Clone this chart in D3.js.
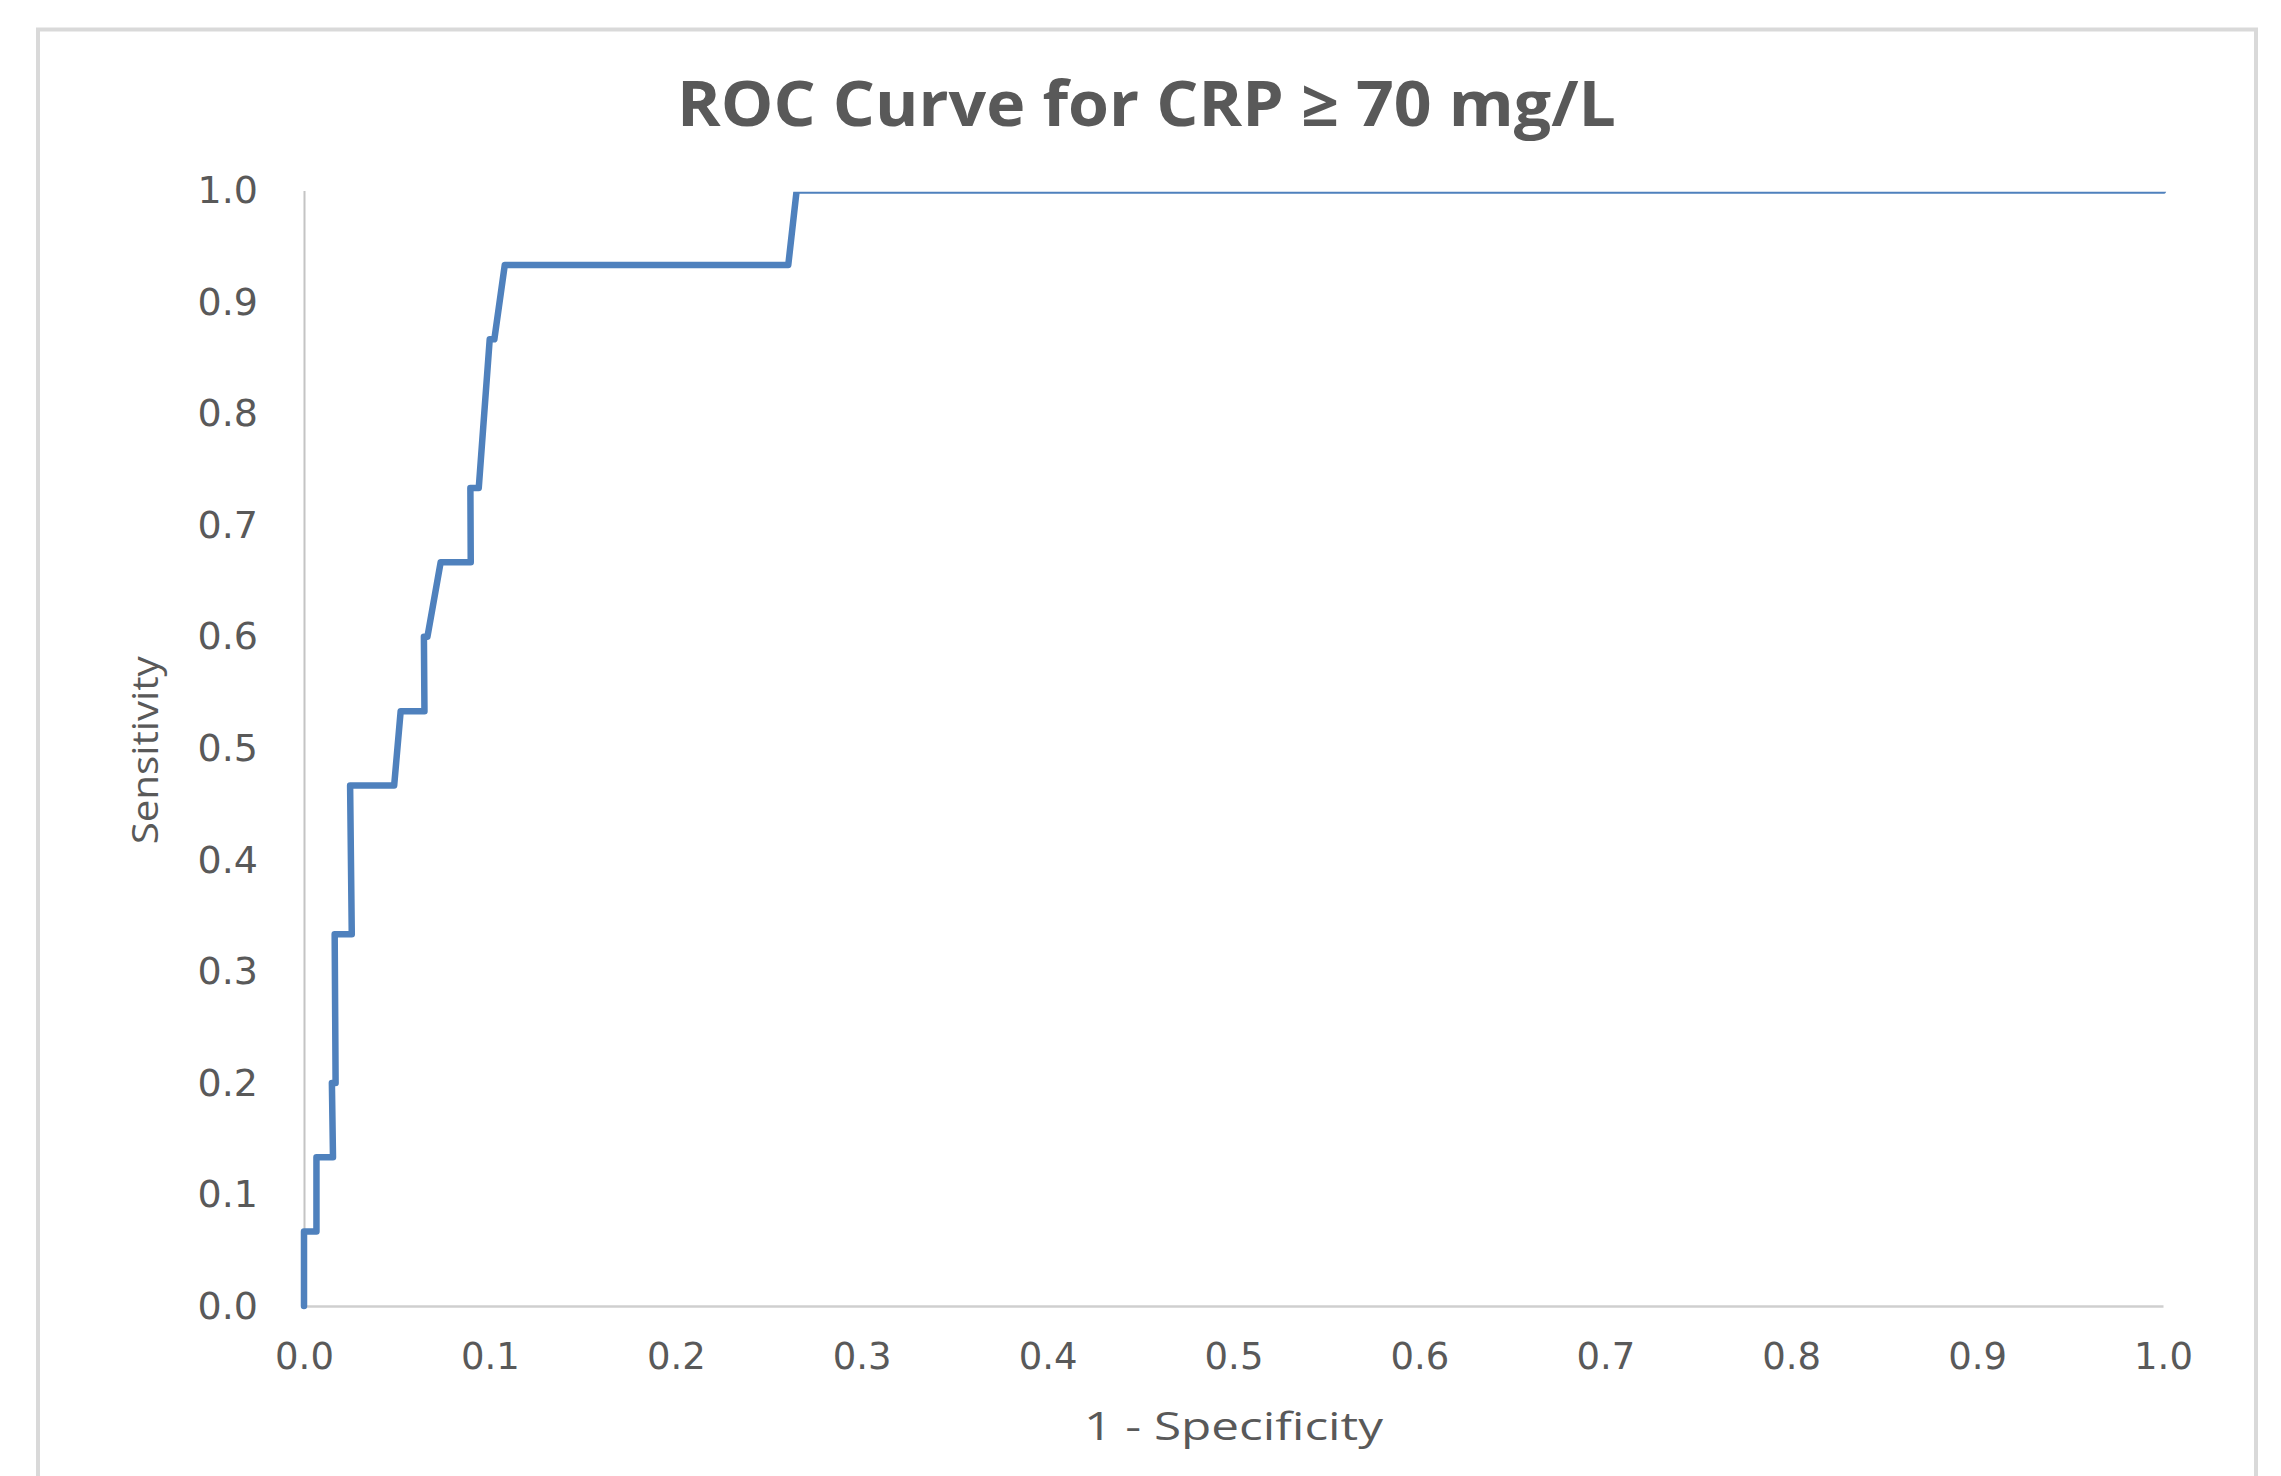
<!DOCTYPE html>
<html>
<head>
<meta charset="utf-8">
<script src="https://cdn.jsdelivr.net/npm/d3@7"></script>
<style>
  html, body { margin: 0; padding: 0; background: #ffffff; }
  svg { display: block; }
</style>
</head>
<body>
<script>
// ----- data -----
const chartTitle = "ROC Curve for CRP \u2265 70 mg/L";
const xTitle = "1 - Specificity";
const yTitle = "Sensitivity";
const xTicks = [0, 0.1, 0.2, 0.3, 0.4, 0.5, 0.6, 0.7, 0.8, 0.9, 1.0];
const yTicks = [0, 0.1, 0.2, 0.3, 0.4, 0.5, 0.6, 0.7, 0.8, 0.9, 1.0];
// 1 - specificity (false positive rate)
const fpr = [0, 0, 0.0067, 0.0067, 0.0156, 0.0150, 0.0170, 0.0165, 0.0257, 0.0248,
             0.0485, 0.0520, 0.0648, 0.0645, 0.0664, 0.0735, 0.0897, 0.0895, 0.0940,
             0.0999, 0.1024, 0.1080, 0.2605, 0.2650, 1.0];
// sensitivity (true positive rate)
const tpr = [0, 0.0667, 0.0667, 0.1333, 0.1333, 0.2, 0.2, 0.3333, 0.3333, 0.4667,
             0.4667, 0.5333, 0.5333, 0.6, 0.6, 0.6667, 0.6667, 0.7333, 0.7333,
             0.8667, 0.8667, 0.9333, 0.9333, 1.0, 1.0];

// ----- layout -----
const W = 2281, H = 1476;
const plot = { left: 304, right: 2163, top: 190.6, bottom: 1306 };
const textColor = "#595959";
const lineColor = "#4f81bd";

const svg = d3.select("body").append("svg")
  .attr("width", W).attr("height", H);

svg.append("rect").attr("width", W).attr("height", H).attr("fill", "#ffffff");

// chart frame
svg.append("rect")
  .attr("x", 38).attr("y", 29.5)
  .attr("width", 2218).attr("height", 1520)
  .attr("fill", "none")
  .attr("stroke", "#d9d9d9")
  .attr("stroke-width", 4);

const x = d3.scaleLinear().domain([0, 1]).range([plot.left, plot.right]);
const y = d3.scaleLinear().domain([0, 1]).range([plot.bottom, plot.top]);

// x axis
const xAxis = svg.append("g")
  .attr("transform", `translate(0,${plot.bottom})`)
  .call(d3.axisBottom(x).tickValues(xTicks).tickFormat(d3.format(".1f"))
        .tickSize(0).tickSizeOuter(0).tickPadding(37));
xAxis.select(".domain").attr("stroke", "#cfcfcf").attr("stroke-width", 2.5);
xAxis.selectAll("text")
  .attr("fill", textColor)
  .style("font-family", "'DejaVu Sans', sans-serif")
  .style("font-size", "37px");

// y axis
const yAxis = svg.append("g")
  .attr("transform", `translate(${plot.left},0)`)
  .call(d3.axisLeft(y).tickValues(yTicks).tickFormat(d3.format(".1f"))
        .tickSize(0).tickSizeOuter(0).tickPadding(46));
yAxis.select(".domain").attr("stroke", "#c4c4c4").attr("stroke-width", 2);
yAxis.selectAll("text")
  .attr("fill", textColor)
  .style("font-family", "'DejaVu Sans', sans-serif")
  .style("font-size", "38px");

// clip for series
svg.append("clipPath").attr("id", "plotClip")
  .append("rect")
  .attr("x", plot.left - 10).attr("y", y(1) + 1.2)
  .attr("width", plot.right - plot.left + 20)
  .attr("height", plot.bottom - y(1) + 10);

const pts = fpr.map((f, i) => [f, tpr[i]]);
const line = d3.line().x(d => x(d[0])).y(d => y(d[1]));

svg.append("path")
  .datum(pts)
  .attr("clip-path", "url(#plotClip)")
  .attr("d", line)
  .attr("fill", "none")
  .attr("stroke", lineColor)
  .attr("stroke-width", 6.5)
  .attr("stroke-linejoin", "round")
  .attr("stroke-linecap", "round");

// titles
svg.append("text")
  .attr("x", 1146.5).attr("y", 126)
  .attr("text-anchor", "middle")
  .attr("textLength", 939)
  .attr("lengthAdjust", "spacingAndGlyphs")
  .attr("fill", textColor)
  .style("font-family", "'Open Sans', sans-serif")
  .style("font-weight", "bold")
  .style("font-size", "62px")
  .text(chartTitle);

svg.append("text")
  .attr("x", (plot.left + plot.right) / 2).attr("y", 1440)
  .attr("text-anchor", "middle")
  .attr("textLength", 299)
  .attr("lengthAdjust", "spacingAndGlyphs")
  .attr("fill", textColor)
  .style("font-family", "'Open Sans', sans-serif")
  .style("font-size", "38px")
  .text(xTitle);

svg.append("text")
  .attr("transform", `translate(158,${(plot.top + plot.bottom) / 2 + 2}) rotate(-90)`)
  .attr("text-anchor", "middle")
  .attr("textLength", 188)
  .attr("lengthAdjust", "spacingAndGlyphs")
  .attr("fill", textColor)
  .style("font-family", "'Open Sans', sans-serif")
  .style("font-size", "36px")
  .text(yTitle);
</script>
</body>
</html>
